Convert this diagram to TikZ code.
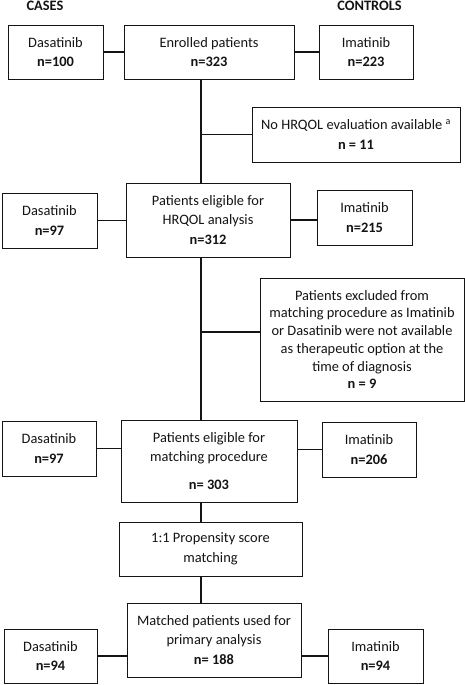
\documentclass[tikz,border=0pt]{standalone}
\usepackage{fontspec}
\setmainfont{Carlito}
\usetikzlibrary{positioning}
\definecolor{ink}{RGB}{20,20,20}
\tikzset{
  box/.style={draw=ink,line width=0.8pt,fill=white,inner sep=2pt,align=center,
    text=ink,font=\fontsize{14.4}{19.5}\selectfont},
  sz/.style 2 args={minimum width=#1pt,minimum height=#2pt},
  link/.style={draw=ink,line width=1.8pt},
  head/.style={font=\fontsize{14.4}{16}\selectfont\bfseries,text=ink},
}

\begin{document}
\begin{tikzpicture}[x=1pt,y=-1pt]
  \useasboundingbox (0,0) rectangle (465,685);
  \coordinate (spine) at (201,0);
  \node[head] (cases) at (45,6) {CASES};
  \node[head] (controls) at (369.5,6) {CONTROLS};
  % main column
  \node[box,sz={170}{54}] (enrolled) at (209,52) {Enrolled patients\\\textbf{n=323}};
  \node[box,sz={164}{74}] (hrqol) at (208,220) {Patients eligible for\\HRQOL analysis\\\textbf{n=312}};
  \node[box,sz={176}{82}] (match) at (209,461) {Patients eligible for\\matching procedure\\[8pt]\textbf{n= 303}};
  \node[box,sz={183}{54}] (prop) at (210.5,549) {1:1 Propensity score\\matching};
  \node[box,sz={174}{74}] (matched) at (214,640) {Matched patients used for\\primary analysis\\\textbf{n= 188}};
  % exclusions
  \node[box,sz={208}{55}] (nohrqol) at (356,134.5) {No HRQOL evaluation available \textsuperscript{a}\\\textbf{n = 11}};
  \node[box,sz={204}{123},font=\fontsize{14.4}{17.7}\selectfont] (excl) at (362,339.5)
    {Patients excluded from\\matching procedure as Imatinib\\or Dasatinib were not available\\as therapeutic option at the\\time of diagnosis\\\textbf{n = 9}};
  % arms
  \node[box,sz={95}{54}] (das1) at (55.5,52) {Dasatinib\\\textbf{n=100}};
  \node[box,sz={94}{54}] (imat1) at (366,52) {Imatinib\\\textbf{n=223}};
  \node[box,sz={95}{55}] (das2) at (49.5,220.5) {Dasatinib\\\textbf{n=97}};
  \node[box,sz={95}{55}] (imat2) at (364.5,217.5) {Imatinib\\\textbf{n=215}};
  \node[box,sz={94}{55}] (das3) at (49,448.5) {Dasatinib\\\textbf{n=97}};
  \node[box,sz={94}{55}] (imat3) at (369,449.5) {Imatinib\\\textbf{n=206}};
  \node[box,sz={93}{54}] (das4) at (50.5,656) {Dasatinib\\\textbf{n=94}};
  \node[box,sz={95}{54}] (imat4) at (375.5,656) {Imatinib\\\textbf{n=94}};
  % connectors
  \draw[link] (enrolled.south -| spine) -- (hrqol.north -| spine);
  \draw[link] (hrqol.south -| spine) -- (match.north -| spine);
  \draw[link] (match.south -| spine) -- (prop.north -| spine);
  \draw[link] (prop.south -| spine) -- (matched.north -| spine);
  \draw[link] (nohrqol.west -| spine) -- (nohrqol.west);
  \draw[link] ([yshift=7.5pt]excl.west -| spine) -- ([yshift=7.5pt]excl.west);
  \draw[link] (das1.east) -- (enrolled.west |- das1.east);
  \draw[link] (imat1.west) -- (enrolled.east |- imat1.west);
  \draw[link] (das2.east) -- (hrqol.west |- das2.east);
  \draw[link] (hrqol.east) -- (imat2.west |- hrqol.east);
  \draw[link] (das3.east) -- (match.west |- das3.east);
  \draw[link] (imat3.west) -- (match.east |- imat3.west);
  \draw[link] (das4.east) -- (matched.west |- das4.east);
  \draw[link] (imat4.west) -- (matched.east |- imat4.west);
\end{tikzpicture}
\end{document}
